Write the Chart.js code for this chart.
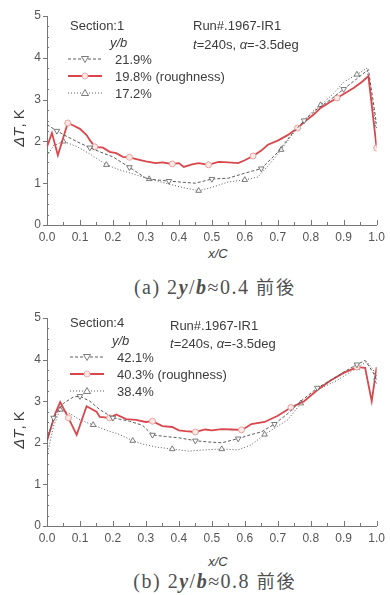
<!DOCTYPE html>
<html><head><meta charset="utf-8">
<script src="https://cdn.jsdelivr.net/npm/chart.js@4/dist/chart.umd.min.js"></script>
<style>
body{margin:0;background:#fff;width:390px;height:595px;position:relative;overflow:hidden;font-family:"Liberation Sans",Arial,sans-serif;}
.cv{position:absolute;left:0;width:390px;}
.t{position:absolute;white-space:nowrap;transform:translateY(-50%);font-size:13px;color:#3c3c3c;line-height:1;}
.yt{position:absolute;white-space:nowrap;font-size:15px;color:#3c3c3c;transform:translate(-50%,-50%) rotate(-90deg);line-height:1;}
.xt{position:absolute;white-space:nowrap;font-size:13px;color:#3c3c3c;transform:translate(-50%,-50%);font-style:italic;line-height:1;}
.cap{position:absolute;left:0;width:390px;text-align:center;transform:translateY(-50%);font-family:"Liberation Serif","DejaVu Serif",serif;font-size:20px;color:#505050;letter-spacing:1.5px;line-height:1;padding-left:40px;box-sizing:border-box;}
.cap .j{font-family:"Noto Sans CJK JP",sans-serif;font-size:18px;letter-spacing:2px;}
</style></head>
<body>
<div class="cv" style="top:0;height:245px"><canvas id="c1" width="390" height="245"></canvas></div>
<div class="cv" style="top:300px;height:246px"><canvas id="c2" width="390" height="246"></canvas></div>

<div class="t" style="left:70px;top:25px">Section:1</div>
<div class="t" style="left:110px;top:42px;font-style:italic">y/b</div>
<div class="t" style="left:193px;top:25px">Run#.1967-IR1</div>
<div class="t" style="left:193px;top:44px"><i>t</i>=240s, <i>α</i>=-3.5deg</div>
<div class="yt" style="left:18px;top:128px"><i>ΔT</i>, K</div>
<div class="xt" style="left:218px;top:253px">x/C</div>
<div class="cap" style="top:287px">(a) 2<b><i>y</i></b>/<b><i>b</i></b>≈0.4 <span class="j">前後</span></div>

<div class="t" style="left:70px;top:322px">Section:4</div>
<div class="t" style="left:112px;top:340px;font-style:italic">y/b</div>
<div class="t" style="left:170px;top:325px">Run#.1967-IR1</div>
<div class="t" style="left:170px;top:343px"><i>t</i>=240s, <i>α</i>=-3.5deg</div>
<div class="yt" style="left:18px;top:430px"><i>ΔT</i>, K</div>
<div class="xt" style="left:218px;top:561px">x/C</div>
<div class="cap" style="top:581px">(b) 2<b><i>y</i></b>/<b><i>b</i></b>≈0.8 <span class="j">前後</span></div>

<script>
// ---------- data (a) Section 1 ----------
const labelsA = ['21.9%', '19.8% (roughness)', '17.2%'];
const xA219 = [0.0,0.03,0.06,0.1,0.13,0.16,0.2,0.25,0.3,0.33,0.37,0.4,0.45,0.5,0.55,0.6,0.65,0.7,0.74,0.78,0.82,0.86,0.9,0.94,0.975,1.0];
const yA219 = [2.4,2.25,2.12,1.96,1.85,1.75,1.63,1.38,1.12,1.08,1.05,1.03,1.0,1.1,1.12,1.24,1.35,1.74,2.15,2.5,2.78,3.0,3.25,3.5,3.72,2.4];
const xA198 = [0.0,0.015,0.033,0.063,0.08,0.10,0.12,0.13,0.145,0.17,0.19,0.21,0.23,0.25,0.28,0.30,0.33,0.35,0.38,0.40,0.415,0.44,0.46,0.49,0.52,0.55,0.58,0.60,0.625,0.65,0.67,0.70,0.73,0.76,0.78,0.81,0.83,0.86,0.88,0.91,0.93,0.955,0.975,1.0];
const yA198 = [1.87,2.2,1.67,2.44,2.38,2.3,2.15,2.03,1.87,1.85,1.75,1.72,1.63,1.62,1.56,1.52,1.48,1.5,1.46,1.48,1.39,1.45,1.48,1.44,1.51,1.5,1.48,1.55,1.65,1.78,1.92,2.02,2.15,2.32,2.46,2.65,2.8,2.95,3.04,3.18,3.28,3.42,3.56,1.84];
const xA172 = [0.0,0.02,0.05,0.09,0.13,0.18,0.22,0.27,0.31,0.36,0.41,0.46,0.5,0.55,0.6,0.64,0.68,0.71,0.74,0.8,0.83,0.87,0.9,0.94,0.97,1.0];
const yA172 = [1.65,1.9,2.0,1.88,1.7,1.44,1.32,1.2,1.1,1.0,0.9,0.82,0.9,1.03,1.08,1.15,1.5,1.8,2.12,2.68,2.87,3.15,3.42,3.6,3.75,2.3];

// ---------- data (b) Section 4 ----------
const labelsB = ['42.1%', '40.3% (roughness)', '38.4%'];
const xB421 = [0.0,0.02,0.05,0.08,0.1,0.13,0.16,0.2,0.25,0.29,0.32,0.36,0.4,0.45,0.49,0.53,0.58,0.62,0.65,0.69,0.73,0.77,0.82,0.86,0.9,0.94,0.965,0.99,1.0];
const yB421 = [2.05,2.6,2.95,3.1,3.12,3.0,2.8,2.6,2.52,2.42,2.19,2.15,2.12,2.05,2.02,2.0,2.1,2.2,2.26,2.45,2.7,3.0,3.32,3.5,3.7,3.88,3.98,3.68,3.5];
const xB403 = [0.0,0.025,0.04,0.065,0.09,0.12,0.15,0.16,0.19,0.21,0.24,0.27,0.3,0.32,0.35,0.38,0.4,0.42,0.45,0.48,0.5,0.53,0.56,0.59,0.6,0.62,0.66,0.7,0.74,0.78,0.82,0.86,0.9,0.94,0.965,0.985,1.0];
const yB403 = [2.05,2.7,2.98,2.6,2.19,2.88,2.75,2.62,2.6,2.68,2.57,2.55,2.5,2.52,2.4,2.38,2.3,2.28,2.26,2.32,2.3,2.33,2.32,2.31,2.35,2.45,2.5,2.65,2.85,3.0,3.27,3.5,3.68,3.82,3.8,3.0,3.82];
const xB384 = [0.0,0.02,0.04,0.07,0.1,0.14,0.18,0.22,0.26,0.29,0.33,0.38,0.43,0.48,0.53,0.58,0.62,0.66,0.7,0.73,0.77,0.82,0.88,0.94,0.97,0.99,1.0];
const yB384 = [1.7,2.4,2.8,2.7,2.55,2.43,2.3,2.2,2.05,1.97,1.9,1.85,1.8,1.83,1.85,1.83,1.95,2.2,2.4,2.55,2.95,3.27,3.5,3.8,3.95,3.75,3.55];

const xTicks = [0,0.1,0.2,0.3,0.4,0.5,0.6,0.7,0.8,0.9,1.0];
const yTicks = [0,1,2,3,4,5];

const pts = (xs, ys) => xs.map((x, i) => ({x, y: ys[i]}));
const RED = '#d9474d', GREY = '#5a5a5a';

function series(labels, xsU, ysU, xsR, ysR, xsL, ysL) {
  return [
    {label: labels[0], data: pts(xsU, ysU), borderColor: GREY, borderWidth: 1, borderDash: [3, 2],
     pointStyle: 'triangle', rotation: 180, pointBorderColor: GREY, pointBackgroundColor: '#fff', pointBorderWidth: 0.8,
     pointRadius: c => (c.dataIndex % 3 === 1 ? 3.2 : 0), tension: 0, mk: 'down'},
    {label: labels[1], data: pts(xsR, ysR), borderColor: RED, borderWidth: 1.8,
     pointStyle: 'circle', pointBorderColor: '#e9a0a0', pointBackgroundColor: '#fbe9e6', pointBorderWidth: 1,
     pointRadius: c => (c.dataIndex % 5 === 3 ? 3 : 0), tension: 0, mk: 'circle'},
    {label: labels[2], data: pts(xsL, ysL), borderColor: GREY, borderWidth: 1, borderDash: [1, 2],
     pointStyle: 'triangle', pointBorderColor: GREY, pointBackgroundColor: '#fff', pointBorderWidth: 0.8,
     pointRadius: c => (c.dataIndex % 3 === 2 ? 3.2 : 0), tension: 0, mk: 'up'}
  ];
}

const inLegend = {
  id: 'inLegend',
  afterDraw(chart, args, o) {
    const ctx = chart.ctx;
    ctx.save();
    chart.data.datasets.forEach((ds, i) => {
      const y = o.rows[i];
      ctx.strokeStyle = ds.borderColor;
      ctx.lineWidth = ds.borderWidth;
      ctx.setLineDash(ds.borderDash || []);
      ctx.beginPath(); ctx.moveTo(o.x0, y); ctx.lineTo(o.x1, y); ctx.stroke();
      ctx.setLineDash([]);
      const mx = (o.x0 + o.x1) / 2;
      ctx.lineWidth = 0.8;
      ctx.strokeStyle = ds.pointBorderColor; ctx.fillStyle = ds.pointBackgroundColor;
      ctx.beginPath();
      if (ds.mk === 'circle') { ctx.arc(mx, y, 3, 0, Math.PI * 2); }
      else if (ds.mk === 'down') { ctx.moveTo(mx - 3.5, y - 2.5); ctx.lineTo(mx + 3.5, y - 2.5); ctx.lineTo(mx, y + 3.5); ctx.closePath(); }
      else { ctx.moveTo(mx - 3.5, y + 2.5); ctx.lineTo(mx + 3.5, y + 2.5); ctx.lineTo(mx, y - 3.5); ctx.closePath(); }
      ctx.fill(); ctx.stroke();
      ctx.fillStyle = '#3c3c3c';
      ctx.font = '13px "Liberation Sans", Arial, sans-serif';
      ctx.textBaseline = 'middle';
      ctx.fillText(ds.label, o.tx, y + 1);
    });
    ctx.restore();
  }
};

const tickMarks = {
  id: 'tickMarks',
  afterDraw(chart) {
    const {ctx, chartArea: a, scales: {x, y}} = chart;
    ctx.save();
    ctx.strokeStyle = '#777'; ctx.lineWidth = 1;
    for (let k = 0; k <= 20; k++) {
      const px = Math.round(x.getPixelForValue(k * 0.05)) + 0.5;
      const len = k % 2 === 0 ? 5 : 3;
      ctx.beginPath(); ctx.moveTo(px, a.bottom); ctx.lineTo(px, a.bottom - len); ctx.stroke();
    }
    for (let k = 0; k <= 20; k++) {
      const py = Math.round(y.getPixelForValue(k * 0.25)) + 0.5;
      ctx.beginPath();
      if (k % 4 === 0) { ctx.moveTo(a.left - 4, py); ctx.lineTo(a.left, py); }
      else { ctx.moveTo(a.left, py); ctx.lineTo(a.left + 2, py); }
      ctx.stroke();
    }
    ctx.restore();
  }
};

function makeChart(id, datasets, padTop, areaBottom, canvasH, legendOpts) {
  return new Chart(document.getElementById(id), {
    type: 'line',
    data: {datasets},
    plugins: [inLegend, tickMarks],
    options: {
      responsive: false, animation: false,
      layout: {padding: {top: padTop, right: 9, left: 0, bottom: 0}},
      plugins: {legend: {display: false}, tooltip: {enabled: false}, inLegend: legendOpts},
      scales: {
        x: {type: 'linear', min: 0, max: 1,
            afterBuildTicks: s => { s.ticks = xTicks.map(v => ({value: v})); },
            afterFit: s => { s.height = canvasH - areaBottom; },
            grid: {display: false, drawTicks: false}, border: {display: true, color: '#777', width: 1},
            ticks: {padding: 5, color: '#555', font: {size: 12, family: '"Liberation Sans", Arial, sans-serif'},
                    maxRotation: 0, autoSkip: false, callback: v => v.toFixed(1)}},
        y: {type: 'linear', min: 0, max: 5,
            afterBuildTicks: s => { s.ticks = yTicks.map(v => ({value: v})); },
            afterFit: s => { s.width = 47; },
            grid: {display: false, drawTicks: false}, border: {display: true, color: '#777', width: 1},
            ticks: {padding: 6, color: '#555', font: {size: 12, family: '"Liberation Sans", Arial, sans-serif'}}}
      }
    }
  });
}

makeChart('c1', series(labelsA, xA219, yA219, xA198, yA198, xA172, yA172), 16, 225, 245,
  {rows: [59, 76, 93], x0: 68, x1: 102, tx: 115});
makeChart('c2', series(labelsB, xB421, yB421, xB403, yB403, xB384, yB384), 18, 226, 246,
  {rows: [57, 74, 91], x0: 70, x1: 104, tx: 117});
</script>
</body></html>
